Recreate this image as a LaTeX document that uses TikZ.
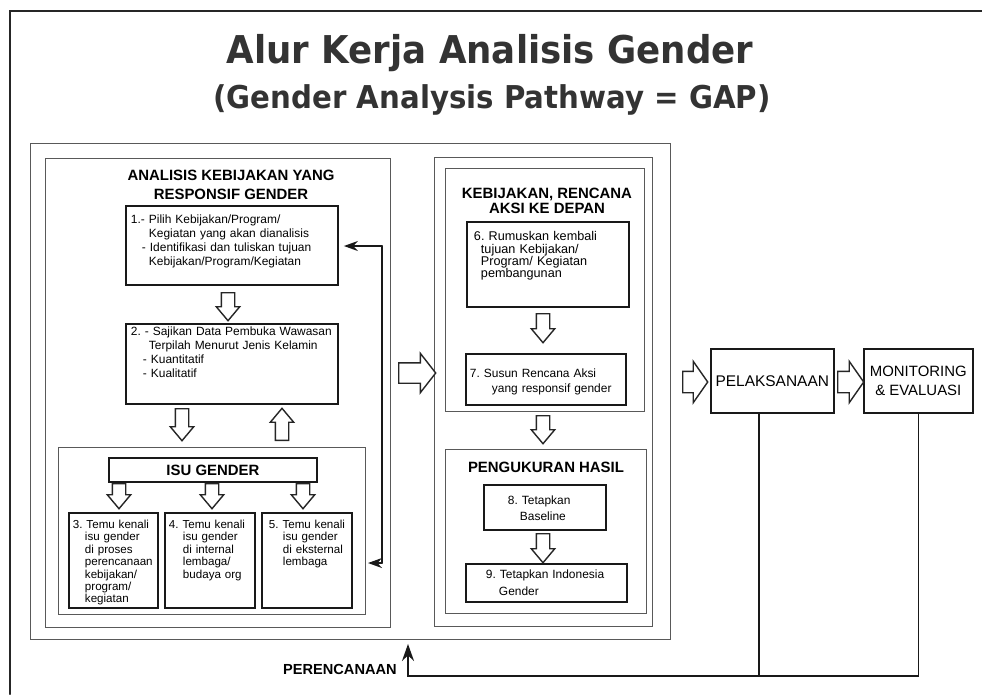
\documentclass[tikz,border=0pt]{standalone}
\usepackage{fontspec}
\setmainfont{Liberation Sans}
\newfontfamily\titlefont[FakeStretch=0.93]{DejaVu Sans}
\usetikzlibrary{arrows.meta,shapes.arrows,calc}
\frenchspacing

\begin{document}
\begin{tikzpicture}[x=0.02cm,y=-0.02cm,line cap=round,
  cont/.style={draw=black!65,line width=0.6pt,anchor=north west,inner sep=0pt},
  box/.style={draw=black!90,line width=1.1pt,anchor=north west,inner sep=0pt,align=left},
  box2/.style={draw=black!90,line width=0.9pt,anchor=north west,inner sep=0pt,align=center},
  hdr/.style={font=\bfseries\fontsize{8.5}{10.6}\selectfont,align=center,inner sep=0pt},
  blk/.style={single arrow,draw=black!85,line width=0.8pt,fill=white,inner xsep=0pt,inner ysep=0.12cm,
    anchor=tail,single arrow head extend=0.1cm,single arrow tip angle=80},
  dn/.style={blk,rotate=-90},
  up/.style={blk,rotate=90},
  rt/.style={blk,inner ysep=0.2cm,single arrow head extend=0.2cm,single arrow tip angle=110},
  fbk/.style={draw=black!90,line width=0.9pt},
  >={Stealth[length=0.28cm,width=0.2cm]}]
\useasboundingbox (0,0) rectangle (982,694);
\draw[line width=1.5pt,black!85] (10,694) -- (10,11) -- (982,11);

% judul
\node[font=\titlefont\bfseries\fontsize{21.8}{26}\selectfont,text=black!80,anchor=base,inner sep=0pt] (judul) at (490,63) {Alur Kerja Analisis Gender};
\node[font=\titlefont\bfseries\fontsize{17.9}{22}\selectfont,text=black!80,anchor=base,inner sep=0pt] (subjudul) at (492,108) {(Gender Analysis Pathway = GAP)};

% kerangka
\node[cont,minimum width=12.8cm,minimum height=9.92cm] (luar) at (30,143) {};
\node[cont,minimum width=6.9cm,minimum height=9.38cm] (kiri) at (45,158) {};
\node[cont,minimum width=6.14cm,minimum height=3.34cm] (isubox) at (58,447) {};
\node[cont,minimum width=4.36cm,minimum height=9.38cm] (tengah) at (434,157) {};
\node[cont,minimum width=3.98cm,minimum height=4.86cm] (rencana) at (445,168) {};
\node[cont,minimum width=4.02cm,minimum height=3.28cm] (ukur) at (445,449) {};

% judul kolom
\node[hdr] (hkiri) at (231,185) {ANALISIS KEBIJAKAN YANG\\RESPONSIF GENDER};
\node[hdr,font=\bfseries\fontsize{8.5}{8.9}\selectfont] (hrenc) at (547,201) {KEBIJAKAN, RENCANA\\AKSI KE DEPAN};
\node[hdr] (hukur) at (546,467) {PENGUKURAN HASIL};

% langkah 1-2
\node[box,text width=4.24cm,text height=0.35cm,text depth=1.23cm,font=\fontsize{6.8}{8}\selectfont] (b1) at (125,205)
  {\hspace*{0.1cm}1.- Pilih Kebijakan/Program/\\
   \hspace*{0.46cm}Kegiatan yang akan dianalisis\\
   \hspace*{0.32cm}- Identifikasi dan tuliskan tujuan\\
   \hspace*{0.46cm}Kebijakan/Program/Kegiatan};
\node[box,text width=4.24cm,text height=0.24cm,text depth=1.36cm,font=\fontsize{6.8}{7.8}\selectfont] (b2) at (125,323)
  {\hspace*{0.1cm}2. - Sajikan Data Pembuka Wawasan\\
   \hspace*{0.46cm}Terpilah Menurut Jenis Kelamin\\
   \hspace*{0.34cm}- Kuantitatif\\
   \hspace*{0.34cm}- Kualitatif};

% isu gender, langkah 3-5
\node[box,minimum width=4.16cm,minimum height=0.48cm,align=center,font=\bfseries\fontsize{8.5}{10}\selectfont] (isu) at (108,457) {ISU GENDER};
\node[box,text width=1.78cm,text height=0.31cm,text depth=1.59cm,font=\fontsize{6.6}{7.05}\selectfont] (b3) at (68,512)
  {\hspace*{0.08cm}3. Temu kenali\\ \hspace*{0.32cm}isu gender\\ \hspace*{0.32cm}di proses\\
   \hspace*{0.32cm}perencanaan\\ \hspace*{0.32cm}kebijakan/\\ \hspace*{0.32cm}program/\\ \hspace*{0.32cm}kegiatan};
\node[box,text width=1.8cm,text height=0.31cm,text depth=1.59cm,font=\fontsize{6.6}{7.05}\selectfont] (b4) at (164,512)
  {\hspace*{0.08cm}4. Temu kenali\\ \hspace*{0.36cm}isu gender\\ \hspace*{0.36cm}di internal\\
   \hspace*{0.36cm}lembaga/\\ \hspace*{0.36cm}budaya org};
\node[box,text width=1.8cm,text height=0.31cm,text depth=1.59cm,font=\fontsize{6.6}{7.05}\selectfont] (b5) at (261,512)
  {\hspace*{0.14cm}5. Temu kenali\\ \hspace*{0.42cm}isu gender\\ \hspace*{0.42cm}di eksternal\\
   \hspace*{0.42cm}lembaga};

% langkah 6-9
\node[box,text width=3.24cm,text height=0.38cm,text depth=1.32cm,font=\fontsize{7.2}{7}\selectfont] (b6) at (466,221)
  {\hspace*{0.14cm}6. Rumuskan kembali\\ \hspace*{0.28cm}tujuan Kebijakan/\\
   \hspace*{0.28cm}Program/ Kegiatan\\ \hspace*{0.28cm}pembangunan};
\node[box,text width=3.2cm,text height=0.48cm,text depth=0.54cm,font=\fontsize{6.8}{8}\selectfont] (b7) at (465,353)
  {\hspace*{0.08cm}7. Susun Rencana Aksi\\ \hspace*{0.52cm}yang responsif gender};
\node[box,text width=2.44cm,text height=0.39cm,text depth=0.51cm,font=\fontsize{6.8}{9.1}\selectfont] (b8) at (483,484)
  {\hspace*{0.48cm}8. Tetapkan\\ \hspace*{0.72cm}Baseline};
\node[box,text width=3.22cm,text height=0.29cm,text depth=0.47cm,font=\fontsize{6.8}{9.7}\selectfont] (b9) at (465,563)
  {\hspace*{0.4cm}9. Tetapkan Indonesia\\ \hspace*{0.66cm}Gender};

% pelaksanaan, monitoring
\node[box2,minimum width=2.46cm,minimum height=1.28cm,font=\fontsize{8.8}{10.8}\selectfont] (pel) at (710,348) {PELAKSANAAN};
\node[box2,minimum width=2.18cm,minimum height=1.28cm,font=\fontsize{8.5}{10.8}\selectfont] (mon) at (863,348) {MONITORING\\\& EVALUASI};

% panah blok
\node[dn,minimum height=0.56cm] (a12) at (228,292) {};
\node[dn,minimum height=0.64cm] (a2i) at (182,408) {};
\node[up,minimum height=0.64cm] (ai2) at (282,441) {};
\node[dn,minimum height=0.5cm] (ai3) at (119,483) {};
\node[dn,minimum height=0.5cm] (ai4) at (212,483) {};
\node[dn,minimum height=0.5cm] (ai5) at (303,483) {};
\node[dn,minimum height=0.58cm] (a67) at (543,313) {};
\node[dn,minimum height=0.56cm] (aru) at (543,415) {};
\node[dn,minimum height=0.58cm] (a89) at (543,533) {};
\node[rt,inner ysep=0.19cm,single arrow head extend=0.19cm,single arrow tip angle=104,minimum height=0.74cm] (akt) at (398,373) {};
\node[rt,minimum height=0.5cm] (atp) at (682,382) {};
\node[rt,minimum height=0.52cm] (apm) at (837,382) {};

% umpan balik
\coordinate (fbA) at (382,246);
\coordinate (fbB) at (382,563);
\draw[fbk] (fbA) -- (fbB);
\draw[fbk,->,shorten >=0.1cm] (fbA) -- (fbA -| b1.east);
\draw[fbk,->,shorten >=0.04cm] (fbB) -- (fbB -| isubox.east);

\coordinate (plan) at (408,676);
\draw[fbk,-{Stealth[length=0.34cm,width=0.24cm]},shorten >=0.08cm] (mon.south) |- (plan) -- (plan |- luar.south);
\draw[fbk] ([xshift=-0.27cm]pel.south) -- ([xshift=-0.27cm]pel.south |- plan);
\node[font=\bfseries\fontsize{8.3}{10}\selectfont,anchor=base east,inner sep=0pt] (perc) at (397,674) {PERENCANAAN};
\end{tikzpicture}
\end{document}
